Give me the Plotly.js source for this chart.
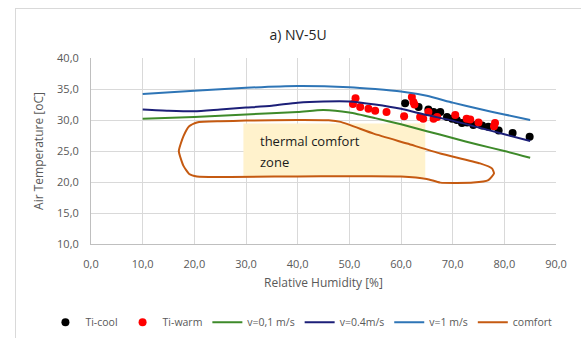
<!DOCTYPE html>
<html>
<head>
<meta charset="utf-8">
<script src="https://cdn.plot.ly/plotly-3.0.1.min.js"></script>
<style>
  html, body { margin: 0; padding: 0; background: #fff; overflow: hidden; }
  #wrap { position: relative; width: 581px; height: 338px; }
  #frame { position: absolute; left: 15px; top: 8px; width: 600px; height: 400px; border: 1px solid #d9d9d9; box-sizing: border-box; pointer-events: none; z-index: 2; }
  #chart { position: absolute; left: 0; top: 0; width: 581px; height: 338px; }
</style>
</head>
<body>
<div id="wrap">
  <div id="chart"></div>
  <div id="frame"></div>
</div>
<script>
// ---- data ----
const coolRH   = [60.8, 63.4, 65.3, 66.3, 67.6, 68.9, 69.9, 70.8, 71.8, 72.8, 74.0, 75.7, 76.9, 78.9, 81.6, 84.9];
const coolT    = [32.7, 32.1, 31.7, 31.3, 31.3, 30.5, 30.2, 30.0, 29.5, 29.6, 29.2, 29.1, 28.9, 28.3, 27.9, 27.3];

const warmRH   = [51.2, 50.7, 52.1, 53.7, 55.0, 57.2, 60.6, 62.1, 62.4, 62.6, 63.7, 64.3, 65.3, 66.3, 67.0, 70.5, 72.7, 73.4, 75.0, 78.2, 78.0];
const warmT    = [33.5, 32.6, 32.1, 31.8, 31.5, 31.3, 30.6, 33.7, 32.9, 32.5, 30.5, 30.2, 31.3, 30.2, 30.5, 30.8, 30.2, 30.1, 29.6, 29.5, 29.0];

const v01RH    = [10, 20, 30, 40, 45, 50, 55, 60, 65, 70, 75, 80, 85];
const v01T     = [30.2, 30.5, 30.9, 31.3, 31.6, 31.2, 30.3, 29.3, 28.2, 27.1, 26.0, 25.0, 23.9];

const v04RH    = [10, 15, 20, 25, 30, 35, 40, 45, 50, 55, 60, 65, 70, 75, 80, 85];
const v04T     = [31.7, 31.5, 31.4, 31.7, 32.0, 32.3, 32.8, 33.0, 33.0, 32.5, 31.8, 30.8, 29.9, 28.8, 27.7, 26.6];

const v1RH     = [10, 20, 30, 40, 50, 55, 60, 65, 70, 75, 80, 85];
const v1T      = [34.2, 34.7, 35.2, 35.5, 35.3, 35.0, 34.6, 33.9, 32.8, 31.8, 30.9, 30.0];

const comfortRH = [20.5, 25, 30, 40, 46, 48.3, 54.7, 61.2, 67.6, 75.3, 77.6, 78.0, 76.9, 74.0, 67.6, 65.0, 60, 40, 20.5, 19.0, 17.9, 17.0, 17.9, 19.0, 20.5];
const comfortT  = [29.6, 29.8, 29.9, 30.0, 29.95, 29.7, 27.8, 26.2, 24.6, 23.0, 22.2, 21.4, 20.3, 19.9, 19.9, 20.5, 20.9, 20.9, 20.9, 21.3, 22.6, 25.0, 27.4, 29.0, 29.6];

const seriesNames = ["Ti-cool", "Ti-warm", "v=0,1 m/s", "v=0.4m/s", "v=1 m/s", "comfort"];
const chartTitle = "a) NV-5U";
const xTitle = "Relative Humidity [%]";
const yTitle = "Air Temperature [oC]";
const boxText1 = "thermal comfort";
const boxText2 = "zone";

const FONT = "'Open Sans', 'Noto Sans', sans-serif";
const GREY = "#595959";

const traces = [
  { x: coolRH, y: coolT, name: seriesNames[0], mode: "markers", type: "scatter",
    marker: { color: "#000000", size: 8 } },
  { x: warmRH, y: warmT, name: seriesNames[1], mode: "markers", type: "scatter",
    marker: { color: "#ff0000", size: 8 } },
  { x: v01RH, y: v01T, name: seriesNames[2], mode: "lines", type: "scatter",
    line: { color: "#3e8a2a", width: 2, shape: "spline", smoothing: 0.6 } },
  { x: v04RH, y: v04T, name: seriesNames[3], mode: "lines", type: "scatter",
    line: { color: "#1c1f78", width: 2, shape: "spline", smoothing: 0.6 } },
  { x: v1RH, y: v1T, name: seriesNames[4], mode: "lines", type: "scatter",
    line: { color: "#2e75b6", width: 2, shape: "spline", smoothing: 0.6 } },
  { x: comfortRH, y: comfortT, name: seriesNames[5], mode: "lines", type: "scatter",
    line: { color: "#c55a11", width: 2, shape: "spline", smoothing: 0.5 } }
];

const layout = {
  width: 581, height: 338,
  margin: { l: 90.5, r: 25.3, t: 57.7, b: 94.3, autoexpand: false },
  paper_bgcolor: "rgba(0,0,0,0)",
  plot_bgcolor: "#ffffff",
  separators: ",.",
  font: { family: FONT, size: 11, color: GREY },
  title: { text: chartTitle, font: { family: FONT, size: 14, color: "#262626" },
           xref: "container", yref: "container", x: 0.513, y: 0.896, xanchor: "center", yanchor: "middle" },
  xaxis: {
    range: [0, 90], dtick: 10, tick0: 0, tickformat: ".1f",
    showgrid: true, gridcolor: "#d9d9d9", gridwidth: 1,
    showline: true, linecolor: "#bfbfbf", linewidth: 1, mirror: false,
    zeroline: false, ticks: "", ticklabelstandoff: 10,
    tickfont: { family: FONT, size: 11, color: GREY },
    title: { text: xTitle, font: { family: FONT, size: 12, color: GREY }, standoff: 8 },
    automargin: false
  },
  yaxis: {
    range: [10, 40], dtick: 5, tick0: 10, tickformat: ".1f",
    showgrid: true, gridcolor: "#d9d9d9", gridwidth: 1,
    showline: true, linecolor: "#bfbfbf", linewidth: 1,
    zeroline: false, ticks: "", ticklabelstandoff: 9,
    tickfont: { family: FONT, size: 11, color: GREY },
    title: { text: yTitle, font: { family: FONT, size: 12, color: GREY }, standoff: 10 },
    automargin: false
  },
  showlegend: true,
  legend: {
    orientation: "h", x: -0.098, xanchor: "left", y: -0.421, yanchor: "middle",
    font: { family: FONT, size: 10.5, color: GREY }, bgcolor: "rgba(0,0,0,0)",
    itemwidth: 30, tracegroupgap: 0
  },
  shapes: [
    { type: "rect", xref: "x", yref: "y", x0: 29.5, x1: 64.7, y0: 20.8, y1: 29.45,
      fillcolor: "#fff2cc", line: { width: 0 }, layer: "between" }
  ],
  annotations: [
    { x: 32.4, y: 26.55, xref: "x", yref: "y", text: boxText1, showarrow: false,
      xanchor: "left", yanchor: "middle", font: { family: FONT, size: 13, color: "#1a1a1a" } },
    { x: 32.4, y: 23.3, xref: "x", yref: "y", text: boxText2, showarrow: false,
      xanchor: "left", yanchor: "middle", font: { family: FONT, size: 13, color: "#1a1a1a" } }
  ]
};

Plotly.newPlot("chart", traces, layout, { displayModeBar: false, staticPlot: true });
</script>
</body>
</html>
